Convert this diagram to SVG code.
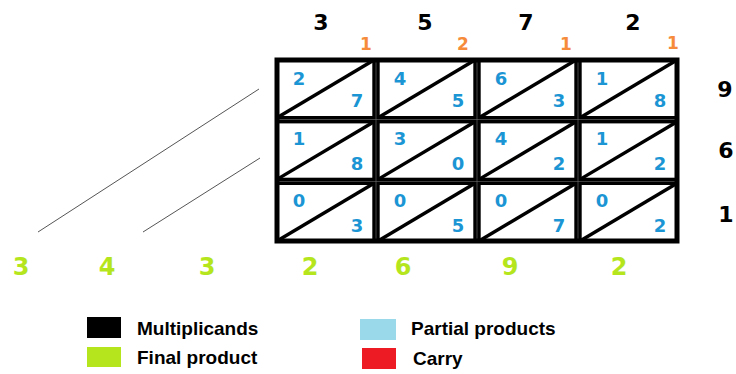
<svg xmlns="http://www.w3.org/2000/svg" width="736" height="374" viewBox="0 0 736 374">
<style>
.cell{fill:#fff;stroke:#000;stroke-width:3.4}
.diag{stroke:#000;stroke-width:3.4}
.pp{font-family:"DejaVu Sans",Verdana,sans-serif;font-weight:bold;font-size:18px;fill:#1b95d4;text-anchor:middle}
.mc{font-family:"DejaVu Sans",Verdana,sans-serif;font-weight:bold;font-size:22px;fill:#000;text-anchor:middle}
.cy{font-family:"DejaVu Sans",Verdana,sans-serif;font-weight:bold;font-size:17px;fill:#f68b3c;text-anchor:middle}
.fp{font-family:"DejaVu Sans",Verdana,sans-serif;font-weight:bold;font-size:24px;fill:#b5e61d;text-anchor:middle}
.lg{font-family:"Liberation Sans",Arial,sans-serif;font-weight:bold;font-size:19px;fill:#000}
.guide{stroke:#555;stroke-width:1;fill:none}
</style>
<rect x="0" y="0" width="736" height="374" fill="#fff"/>
<rect x="275" y="58" width="404" height="185" fill="#777"/>
<g id="cell-0-0"><rect class="cell" x="277" y="60" width="97" height="57.7"/><line class="diag" x1="277" y1="117.7" x2="374" y2="60"/><text class="pp" x="299" y="85">2</text><text class="pp" x="357" y="107">7</text></g>
<g id="cell-0-1"><rect class="cell" x="378" y="60" width="97" height="57.7"/><line class="diag" x1="378" y1="117.7" x2="475" y2="60"/><text class="pp" x="400" y="85">4</text><text class="pp" x="458" y="107">5</text></g>
<g id="cell-0-2"><rect class="cell" x="479" y="60" width="97" height="57.7"/><line class="diag" x1="479" y1="117.7" x2="576" y2="60"/><text class="pp" x="501" y="85">6</text><text class="pp" x="559" y="107">3</text></g>
<g id="cell-0-3"><rect class="cell" x="580" y="60" width="97" height="57.7"/><line class="diag" x1="580" y1="117.7" x2="677" y2="60"/><text class="pp" x="602" y="85">1</text><text class="pp" x="660" y="107">8</text></g>
<g id="cell-1-0"><rect class="cell" x="277" y="121.7" width="97" height="57.7"/><line class="diag" x1="277" y1="179.4" x2="374" y2="121.7"/><text class="pp" x="299" y="145">1</text><text class="pp" x="357" y="170">8</text></g>
<g id="cell-1-1"><rect class="cell" x="378" y="121.7" width="97" height="57.7"/><line class="diag" x1="378" y1="179.4" x2="475" y2="121.7"/><text class="pp" x="400" y="145">3</text><text class="pp" x="458" y="170">0</text></g>
<g id="cell-1-2"><rect class="cell" x="479" y="121.7" width="97" height="57.7"/><line class="diag" x1="479" y1="179.4" x2="576" y2="121.7"/><text class="pp" x="501" y="145">4</text><text class="pp" x="559" y="170">2</text></g>
<g id="cell-1-3"><rect class="cell" x="580" y="121.7" width="97" height="57.7"/><line class="diag" x1="580" y1="179.4" x2="677" y2="121.7"/><text class="pp" x="602" y="145">1</text><text class="pp" x="660" y="170">2</text></g>
<g id="cell-2-0"><rect class="cell" x="277" y="183.3" width="97" height="57.7"/><line class="diag" x1="277" y1="241" x2="374" y2="183.3"/><text class="pp" x="299" y="207">0</text><text class="pp" x="357" y="232">3</text></g>
<g id="cell-2-1"><rect class="cell" x="378" y="183.3" width="97" height="57.7"/><line class="diag" x1="378" y1="241" x2="475" y2="183.3"/><text class="pp" x="400" y="207">0</text><text class="pp" x="458" y="232">5</text></g>
<g id="cell-2-2"><rect class="cell" x="479" y="183.3" width="97" height="57.7"/><line class="diag" x1="479" y1="241" x2="576" y2="183.3"/><text class="pp" x="501" y="207">0</text><text class="pp" x="559" y="232">7</text></g>
<g id="cell-2-3"><rect class="cell" x="580" y="183.3" width="97" height="57.7"/><line class="diag" x1="580" y1="241" x2="677" y2="183.3"/><text class="pp" x="602" y="207">0</text><text class="pp" x="660" y="232">2</text></g>
<rect x="277" y="60" width="400" height="181" fill="none" stroke="#000" stroke-width="5"/>
<g id="multiplicand">
<text class="mc" x="321" y="30">3</text><text class="mc" x="425" y="30">5</text><text class="mc" x="526" y="30">7</text><text class="mc" x="633" y="30">2</text>
</g>
<g id="carries">
<text class="cy" x="366" y="50">1</text><text class="cy" x="463" y="50">2</text><text class="cy" x="566" y="50">1</text><text class="cy" x="673" y="49">1</text>
</g>
<g id="multiplier">
<text class="mc" x="725" y="97">9</text><text class="mc" x="726" y="158">6</text><text class="mc" x="726" y="222">1</text>
</g>
<g id="product">
<text class="fp" x="21" y="275">3</text><text class="fp" x="107" y="275">4</text><text class="fp" x="207" y="275">3</text><text class="fp" x="310" y="275">2</text><text class="fp" x="403" y="275">6</text><text class="fp" x="510" y="275">9</text><text class="fp" x="619" y="275">2</text>
</g>
<g id="connectors">
<line class="guide" x1="38" y1="232" x2="259" y2="89"/>
<line class="guide" x1="143" y1="232" x2="260" y2="158"/>
</g>
<g id="legend">
<rect x="87" y="317" width="34" height="21" fill="#000"/><text class="lg" x="137" y="335">Multiplicands</text>
<rect x="87" y="347" width="34" height="20" fill="#b5e61d"/><text class="lg" x="137" y="364">Final product</text>
<rect x="360" y="319" width="36" height="21" fill="#99d9ea"/><text class="lg" x="411" y="335">Partial products</text>
<rect x="362" y="348" width="34" height="21" fill="#ed1c24"/><text class="lg" x="413" y="365">Carry</text>
</g>
</svg>
